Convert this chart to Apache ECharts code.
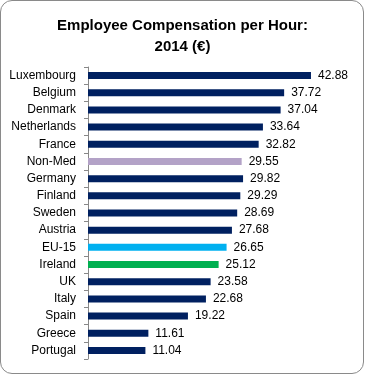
<!DOCTYPE html>
<html>
<head>
<meta charset="utf-8">
<script src="https://cdn.jsdelivr.net/npm/echarts@6/dist/echarts.min.js"></script>
<style>
html,body{margin:0;padding:0;background:#fff;}
#frame{position:absolute;left:0;top:0;width:362px;height:372px;border:1px solid #8a8a8a;border-radius:12px;box-sizing:content-box;}
#chart{position:absolute;left:0;top:0;width:365px;height:375px;}
</style>
</head>
<body>
<div id="frame"></div>
<div id="chart"></div>
<script>
const categories = ["Luxembourg","Belgium","Denmark","Netherlands","France","Non-Med","Germany","Finland","Sweden","Austria","EU-15","Ireland","UK","Italy","Spain","Greece","Portugal"];
const values = [42.88,37.72,37.04,33.64,32.82,29.55,29.82,29.29,28.69,27.68,26.65,25.12,23.58,22.68,19.22,11.61,11.04];
const highlight = {"Non-Med":"#b3a2c7","EU-15":"#00b0f0","Ireland":"#00b050"};
const baseColor = "#002060";

const chart = echarts.init(document.getElementById('chart'), null, {renderer:'canvas'});
chart.setOption({
  animation:false,
  title:{
    text:"Employee Compensation per Hour:\n2014 (€)",
    left:'center', top:10,
    textStyle:{fontFamily:'Liberation Sans', fontWeight:'bold', fontSize:15, lineHeight:21, color:'#000'}
  },
  grid:{left:88, right:17, top:67, bottom:16, containLabel:false},
  xAxis:{type:'value', min:0, max:50, show:false},
  yAxis:{
    type:'category', inverse:true, data:categories,
    axisLine:{show:true, lineStyle:{color:'#888', width:1}},
    axisTick:{show:true, length:4, lineStyle:{color:'#888'}},
    axisLabel:{fontFamily:'Liberation Sans', fontSize:12, color:'#000', margin:12}
  },
  series:[{
    type:'bar',
    data: categories.map((c,i)=>({value:values[i], itemStyle:{color:highlight[c]||baseColor}})),
    barWidth:7,
    label:{show:true, position:'right', distance:7, fontFamily:'Liberation Sans', fontSize:12, color:'#000',
      formatter:p=>p.value.toFixed(2)}
  }]
});
</script>
</body>
</html>
